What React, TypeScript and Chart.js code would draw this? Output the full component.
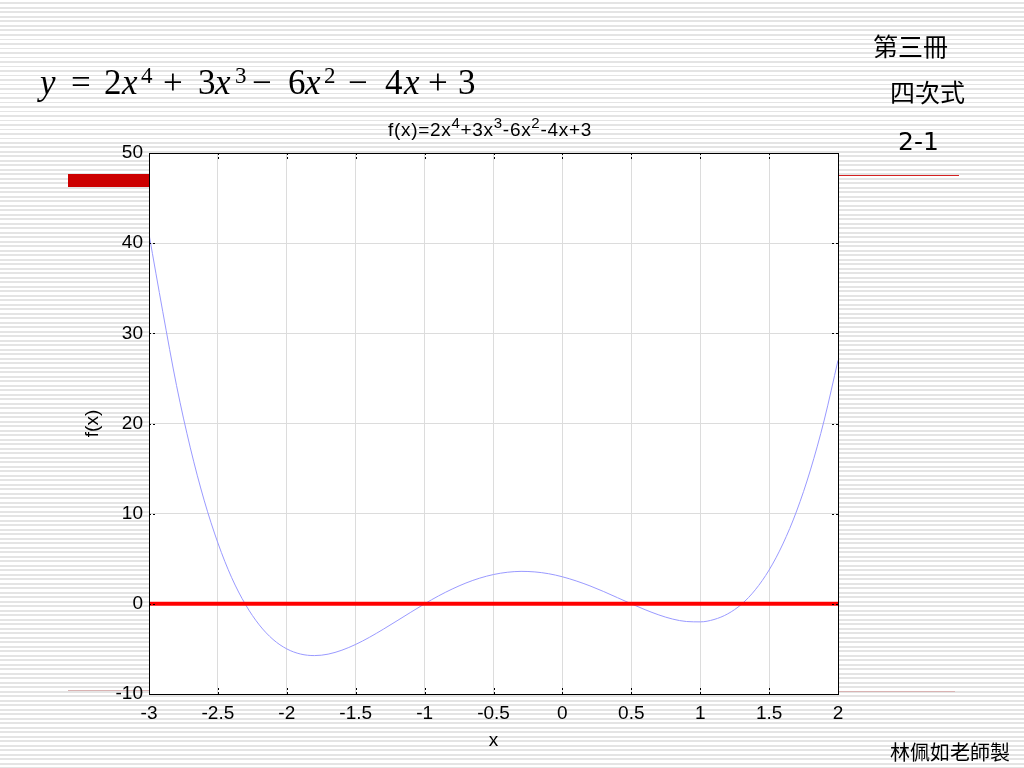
import React, { useEffect, useRef } from "react";
import { Chart, registerables } from "chart.js";

Chart.register(...registerables);

// ---- data ----
const X_VALUES = [
  -3, -2.9, -2.8, -2.7, -2.6, -2.5, -2.4, -2.3, -2.2, -2.1,
  -2, -1.9, -1.8, -1.7, -1.6, -1.5, -1.4, -1.3, -1.2, -1.1,
  -1, -0.9, -0.8, -0.7, -0.6, -0.5, -0.4, -0.3, -0.2, -0.1,
  0, 0.1, 0.2, 0.3, 0.4, 0.5, 0.6, 0.7, 0.8, 0.9,
  1, 1.1, 1.2, 1.3, 1.4, 1.5, 1.6, 1.7, 1.8, 1.9, 2,
];
const F_VALUES = [
  41, 32.4, 24.2, 17.3, 11.5, 6.75, 2.9, -0.07, -2.33, -3.95,
  -5, -5.57, -5.74, -5.58, -5.14, -4.5, -3.71, -2.82, -1.88, -0.93,
  0, 0.87, 1.64, 2.31, 2.85, 3.25, 3.5, 3.6, 3.54, 3.34,
  3, 2.54, 1.99, 1.36, 0.68, 0, -0.65, -1.23, -1.69, -1.96,
  -2, -1.74, -1.11, -0.04, 1.56, 3.75, 6.64, 10.3, 14.85, 20.38, 27,
];
const ZERO_X = [-3, 2];
const ZERO_Y = [0, 0];

const X_MIN = -3;
const X_MAX = 2;
const X_STEP = 0.5;
const Y_MIN = -10;
const Y_MAX = 50;
const Y_STEP = 10;

const CHART_TITLE_PARTS: [string, string][] = [
  ["f(x)=2x", "4"],
  ["+3x", "3"],
  ["-6x", "2"],
  ["-4x+3", ""],
];

const SANS = "'Liberation Sans', Arial, Helvetica, sans-serif";
const CJK = "'Noto Sans CJK TC', 'Noto Sans CJK SC', sans-serif";
const SERIF = "'Liberation Serif', 'Times New Roman', serif";
const TICK_FONT_SIZE = 19;

const framePlugin = {
  id: "frame",
  beforeDraw(chart: any) {
    const { ctx, chartArea } = chart;
    const { left, top, right, bottom } = chartArea;
    ctx.save();
    ctx.fillStyle = "#ffffff";
    ctx.fillRect(left, top, right - left, bottom - top);
    ctx.restore();
  },
  afterDraw(chart: any) {
    const { ctx, chartArea, scales } = chart;
    const { left, top, right, bottom } = chartArea;
    ctx.save();
    ctx.strokeStyle = "#000000";
    ctx.lineWidth = 1;
    ctx.strokeRect(Math.round(left) + 0.5, Math.round(top) + 0.5, Math.round(right - left), Math.round(bottom - top));
    ctx.setLineDash([2, 2]);
    const len = 6;
    scales.x.ticks.forEach((t: any) => {
      const px = Math.round(scales.x.getPixelForValue(t.value)) + 0.5;
      ctx.beginPath();
      ctx.moveTo(px, top);
      ctx.lineTo(px, top + len);
      ctx.moveTo(px, bottom);
      ctx.lineTo(px, bottom - len);
      ctx.stroke();
    });
    scales.y.ticks.forEach((t: any) => {
      const py = Math.round(scales.y.getPixelForValue(t.value)) + 0.5;
      ctx.beginPath();
      ctx.moveTo(left, py);
      ctx.lineTo(left + len, py);
      ctx.moveTo(right, py);
      ctx.lineTo(right - len, py);
      ctx.stroke();
    });
    ctx.restore();
  },
};

function PlotCanvas() {
  const ref = useRef<HTMLCanvasElement | null>(null);
  useEffect(() => {
    if (!ref.current) return;
    const curve = X_VALUES.map((x, i) => ({ x, y: F_VALUES[i] }));
    const zero = ZERO_X.map((x, i) => ({ x, y: ZERO_Y[i] }));
    const chart = new Chart(ref.current, {
      type: "line",
      data: {
        datasets: [
          {
            label: "y=0",
            data: zero,
            borderColor: "#ff0000",
            borderWidth: 4,
            pointRadius: 0,
            fill: false,
          },
          {
            label: "f(x)",
            data: curve,
            borderColor: "#9a9aff",
            borderWidth: 1,
            pointRadius: 0,
            fill: false,
            cubicInterpolationMode: "monotone",
          },
        ],
      },
      options: {
        animation: false,
        responsive: false,
        events: [],
        layout: { padding: { top: 153, right: 186, left: 0, bottom: 0 } },
        plugins: {
          legend: { display: false },
          tooltip: { enabled: false },
          title: { display: false },
        },
        scales: {
          x: {
            type: "linear",
            min: X_MIN,
            max: X_MAX,
            border: { display: false },
            grid: { color: "#dcdcdc", drawTicks: false, lineWidth: 1 },
            ticks: {
              stepSize: X_STEP,
              color: "#000",
              padding: 8,
              maxRotation: 0,
              font: { family: SANS, size: TICK_FONT_SIZE },
              callback: (v: any) => String(v),
            },
            title: {
              display: true,
              text: "x",
              color: "#000",
              font: { family: SANS, size: TICK_FONT_SIZE },
              padding: { top: 0, bottom: 16 },
            },
            afterFit: (scale: any) => {
              scale.height = 74;
            },
          },
          y: {
            type: "linear",
            min: Y_MIN,
            max: Y_MAX,
            border: { display: false },
            grid: { color: "#dcdcdc", drawTicks: false, lineWidth: 1 },
            ticks: {
              stepSize: Y_STEP,
              color: "#000",
              padding: 6,
              font: { family: SANS, size: TICK_FONT_SIZE },
              callback: (v: any) => String(v),
            },
            title: {
              display: true,
              text: "f(x)",
              color: "#000",
              font: { family: SANS, size: TICK_FONT_SIZE },
              padding: { top: 81, bottom: 0 },
            },
            afterFit: (scale: any) => {
              scale.width = 149;
            },
          },
        },
      },
      plugins: [framePlugin],
    });
    return () => chart.destroy();
  }, []);
  return (
    <canvas
      ref={ref}
      width={1024}
      height={768}
      style={{ position: "absolute", left: 0, top: 0, width: 1024, height: 768 }}
    />
  );
}

const abs = (left: number, top: number, extra: React.CSSProperties = {}): React.CSSProperties => ({
  position: "absolute",
  left,
  top,
  lineHeight: 1,
  whiteSpace: "pre",
  ...extra,
});

// equation glyph layout: [text, left, italic, sup]
const EQ_GLYPHS: [string, number, boolean, boolean][] = [
  ["y", 40, true, false],
  ["=", 71, false, false],
  ["2", 104, false, false],
  ["x", 122, true, false],
  ["4", 141, false, true],
  ["+", 163, false, false],
  ["3", 198, false, false],
  ["x", 215, true, false],
  ["3", 235, false, true],
  ["\u2212", 252, false, false],
  ["6", 288, false, false],
  ["x", 305, true, false],
  ["2", 324, false, true],
  ["\u2212", 348, false, false],
  ["4", 385, false, false],
  ["x", 404, true, false],
  ["+", 428, false, false],
  ["3", 458, false, false],
];

export default function App() {
  return (
    <div
      style={{
        position: "fixed",
        left: 0,
        top: 0,
        width: 1024,
        height: 768,
        overflow: "hidden",
        backgroundColor: "#ffffff",
        backgroundImage:
          "repeating-linear-gradient(to bottom, #ffffff 0px, #ffffff 2.5px, #e4e4e4 2.5px, #e4e4e4 4.5px)",
      }}
    >
      {/* slide decorations */}
      <div style={{ position: "absolute", left: 68, top: 174, width: 81, height: 13, background: "#cc0000" }} />
      <div style={{ position: "absolute", left: 838, top: 175, width: 121, height: 1, background: "#d42020" }} />
      <div style={{ position: "absolute", left: 68, top: 690, width: 81, height: 1, background: "#d9b3b3" }} />
      <div style={{ position: "absolute", left: 838, top: 691, width: 117, height: 1, background: "#d9b3b3" }} />

      <PlotCanvas />

      {/* chart title */}
      <div style={abs(388, 120, { fontFamily: SANS, fontSize: 19, letterSpacing: 0.7, color: "#000" })}>
        {CHART_TITLE_PARTS.map(([base, sup], i) => (
          <React.Fragment key={i}>
            {base}
            {sup ? (
              <span style={{ fontSize: 15, position: "relative", top: -8 }}>{sup}</span>
            ) : null}
          </React.Fragment>
        ))}
      </div>

      {/* equation */}
      {EQ_GLYPHS.map(([t, left, italic, sup], i) => (
        <div
          key={i}
          style={abs(left, sup ? 63.5 : 64.5, {
            fontFamily: SERIF,
            fontSize: sup ? 23 : 35,
            fontStyle: italic ? "italic" : "normal",
            color: "#000",
          })}
        >
          {t}
        </div>
      ))}

      {/* right side labels */}
      <div style={abs(873, 33, { fontFamily: CJK, fontSize: 25, color: "#000" })}>第三冊</div>
      <div style={abs(890, 79, { fontFamily: CJK, fontSize: 25, color: "#000" })}>四次式</div>
      <div style={abs(898, 129, { fontFamily: "'DejaVu Sans', sans-serif", fontSize: 25, color: "#000" })}>2-1</div>
      <div style={abs(890, 742, { fontFamily: CJK, fontSize: 20, color: "#000" })}>林佩如老師製</div>
    </div>
  );
}
